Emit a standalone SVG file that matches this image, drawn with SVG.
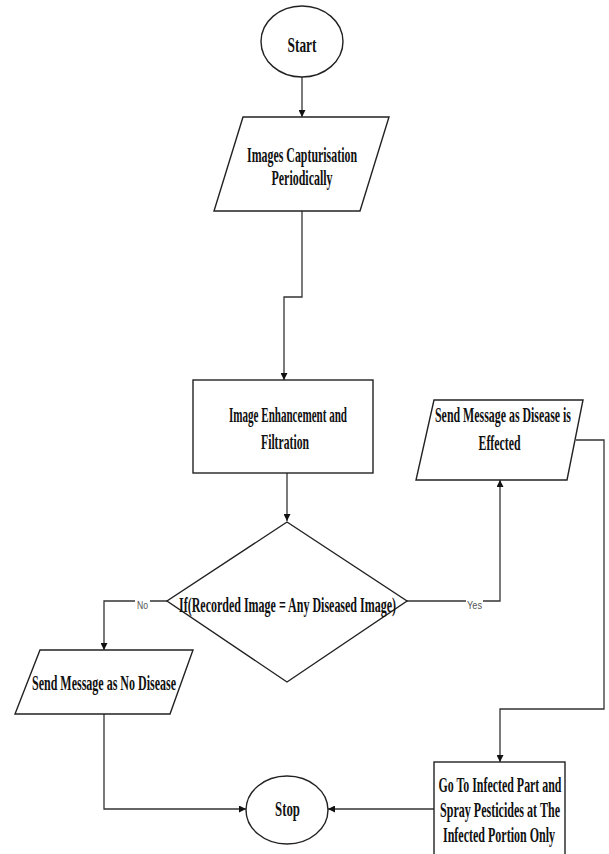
<svg xmlns="http://www.w3.org/2000/svg" width="609" height="854" viewBox="0 0 609 854">
<defs>
<style>
.shape{fill:#fff;stroke:#222;stroke-width:1.4}
.edge{fill:none;stroke:#333;stroke-width:1.3}
.t{font-family:"Liberation Serif","Times New Roman",serif;font-weight:bold;font-size:22px;fill:#111;text-anchor:middle}
.lbl{font-family:"Liberation Sans",Arial,sans-serif;font-size:11px;fill:#555;text-anchor:middle}
</style>
<marker id="arr" viewBox="0 0 10 10" refX="10" refY="5" markerWidth="7" markerHeight="7" markerUnits="userSpaceOnUse" orient="auto">
<path d="M0,0 L10,5 L0,10 z" fill="#111"/>
</marker>
</defs>
<rect x="0" y="0" width="609" height="854" fill="#fff"/>

<g id="connectors">
<path class="edge" d="M302,77 L302,117" marker-end="url(#arr)"/>
<path class="edge" d="M302,211 L302,297 L284,297 L284,380" marker-end="url(#arr)"/>
<path class="edge" d="M287,473 L287,521" marker-end="url(#arr)"/>
<path class="edge" d="M167,601 L104,601 L104,650" marker-end="url(#arr)"/>
<path class="edge" d="M407,601 L500,601 L500,480" marker-end="url(#arr)"/>
<path class="edge" d="M576,440 L604,440 L604,709 L500,709 L500,762" marker-end="url(#arr)"/>
<path class="edge" d="M104,714 L104,809 L246,809" marker-end="url(#arr)"/>
<path class="edge" d="M434,809 L328,809" marker-end="url(#arr)"/>
<rect x="135" y="597" width="15" height="11" fill="#fff"/>
<text class="lbl" x="142.5" y="609" textLength="11" lengthAdjust="spacingAndGlyphs">No</text>
<rect x="466" y="597" width="17" height="11" fill="#fff"/>
<text class="lbl" x="474.5" y="609" textLength="15" lengthAdjust="spacingAndGlyphs">Yes</text>
</g>

<g id="start">
<ellipse class="shape" cx="302" cy="41.5" rx="41" ry="35.5"/>
<text class="t" x="302" y="52" textLength="29" lengthAdjust="spacingAndGlyphs">Start</text>
</g>

<g id="capture">
<polygon class="shape" points="243,117 389,117 360,211 214,211"/>
<text class="t" x="302" y="162" textLength="110" lengthAdjust="spacingAndGlyphs">Images Capturisation</text>
<text class="t" x="302" y="185" textLength="61" lengthAdjust="spacingAndGlyphs">Periodically</text>
</g>

<g id="enhance">
<rect class="shape" x="193" y="380" width="180" height="93"/>
<text class="t" x="288" y="422" textLength="118" lengthAdjust="spacingAndGlyphs">Image Enhancement and</text>
<text class="t" x="285" y="449" textLength="48" lengthAdjust="spacingAndGlyphs">Filtration</text>
</g>

<g id="decision">
<polygon class="shape" points="287,522 407,601 287,682 167,601"/>
<text class="t" x="287.5" y="612" textLength="217" lengthAdjust="spacingAndGlyphs">If(Recorded Image = Any Diseased Image)</text>
</g>

<g id="msg-disease">
<polygon class="shape" points="434,400 583,400 567,480 416,480"/>
<text class="t" x="503" y="422" textLength="136" lengthAdjust="spacingAndGlyphs">Send Message as Disease is</text>
<text class="t" x="499.5" y="450" textLength="42" lengthAdjust="spacingAndGlyphs">Effected</text>
</g>

<g id="msg-nodisease">
<polygon class="shape" points="40,650 193,650 170,714 15,714"/>
<text class="t" x="104" y="690" textLength="144" lengthAdjust="spacingAndGlyphs">Send Message as No Disease</text>
</g>

<g id="spray">
<rect class="shape" x="434" y="762" width="131" height="100"/>
<text class="t" x="500" y="792" textLength="123" lengthAdjust="spacingAndGlyphs">Go To Infected Part and</text>
<text class="t" x="500" y="817" textLength="120" lengthAdjust="spacingAndGlyphs">Spray Pesticides at The</text>
<text class="t" x="499" y="842" textLength="112" lengthAdjust="spacingAndGlyphs">Infected Portion Only</text>
</g>

<g id="stop">
<ellipse class="shape" cx="287" cy="810" rx="41" ry="34"/>
<text class="t" x="287.5" y="816" textLength="25" lengthAdjust="spacingAndGlyphs">Stop</text>
</g>
</svg>
